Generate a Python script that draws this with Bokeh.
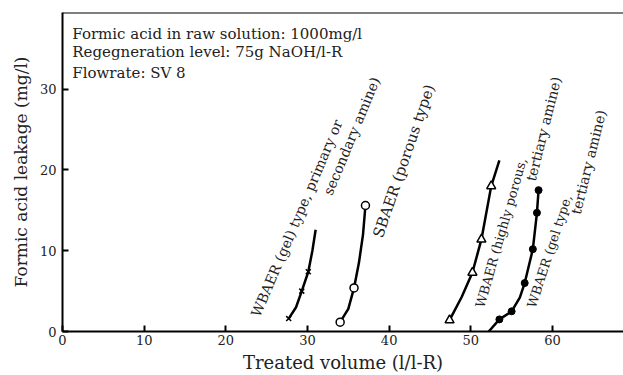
from bokeh.plotting import figure
from bokeh.models import Label, Span, FixedTicker, Range1d
from bokeh.embed import file_html
from bokeh.resources import INLINE

FONT = "DejaVu Serif"

# ---- data ----
# WBAER (gel type, primary or secondary amine) - x markers
s1_x = [27.7, 29.3, 30.1]
s1_y = [1.6, 5.0, 7.4]
s1_line_x = [27.7, 28.6, 29.3, 30.1, 30.6, 31.0]
s1_line_y = [1.6, 3.0, 5.0, 7.4, 10.0, 12.6]

# SBAER (porous type) - open circles
s2_x = [34.0, 35.7, 37.1]
s2_y = [1.15, 5.4, 15.6]
s2_line_x = [34.0, 35.0, 35.7, 36.3, 36.8, 37.1]
s2_line_y = [1.15, 2.8, 5.4, 8.5, 12.0, 15.6]

# WBAER (highly porous, tertiary amine) - open triangles
s3_x = [47.4, 50.2, 51.3, 52.5]
s3_y = [1.4, 7.3, 11.4, 18.0]
s3_line_x = [47.4, 48.9, 50.2, 51.3, 52.5, 53.5]
s3_line_y = [1.4, 4.3, 7.3, 11.4, 18.0, 21.2]

# WBAER (gel type, tertiary amine) - filled circles
s4_x = [53.5, 55.0, 56.6, 57.6, 58.1, 58.3]
s4_y = [1.5, 2.5, 6.0, 10.2, 14.7, 17.5]
s4_line_x = [52.2, 53.5, 55.0, 56.0, 56.6, 57.6, 58.1, 58.3]
s4_line_y = [0.0, 1.5, 2.5, 4.2, 6.0, 10.2, 14.7, 17.5]

x_ticks = [0, 10, 20, 30, 40, 50, 60]
y_ticks = [0, 10, 20, 30]

notes = ["Formic acid in raw solution: 1000mg/l",
         "Regegneration level: 75g NaOH/l-R",
         "Flowrate: SV 8"]
notes_y = [36.85, 34.55, 32.0]

curve_labels = ["WBAER (gel) type, primary or", "secondary amine)",
                "SBAER (porous type)",
                "WBAER (highly porous,", "tertiary amine)",
                "WBAER (gel type,", "tertiary amine)"]
curve_label_x = [23.6, 38.35, 38.6, 51.1, 60.5, 57.4, 66.0]
curve_label_y = [1.9, 31.4, 11.7, 3.0, 31.5, 3.0, 27.4]
curve_label_align = ["left", "right", "left", "left", "right", "left", "right"]
curve_label_angle = [67, 67.5, 71, 74, 76, 72, 76]
curve_label_size = ["14px", "14px", "15px", "13px", "14px", "13px", "14px"]

X_END = 68.7
Y_END = 39.5

p = figure(width=623, height=375, output_backend="svg", toolbar_location=None,
           x_range=Range1d(0, X_END), y_range=Range1d(0, Y_END),
           min_border_left=62, min_border_top=12, min_border_right=0,
           min_border_bottom=43)
p.outline_line_color = None
p.grid.visible = False
p.background_fill_color = "white"
p.border_fill_color = "white"

for ax in (p.xaxis[0], p.yaxis[0]):
    ax.axis_line_width = 2
    ax.axis_line_color = "black"
    ax.major_tick_in = 6
    ax.major_tick_out = 0
    ax.major_tick_line_width = 2
    ax.minor_tick_line_color = None
    ax.major_label_text_font = FONT
    ax.major_label_text_font_size = "13px"
    ax.major_label_text_color = "#222222"
    ax.axis_label_text_font = FONT
    ax.axis_label_text_font_style = "normal"
    ax.axis_label_text_color = "#222222"

p.xaxis.ticker = FixedTicker(ticks=x_ticks)
p.yaxis.ticker = FixedTicker(ticks=y_ticks)
p.xaxis.axis_label = "Treated volume (l/l-R)"
p.yaxis.axis_label = "Formic acid leakage (mg/l)"
p.xaxis.axis_label_text_font_size = "18px"
p.yaxis.axis_label_text_font_size = "17px"
p.xaxis.major_label_standoff = 3
p.yaxis.major_label_standoff = 6
p.xaxis.axis_label_standoff = 4
p.yaxis.axis_label_standoff = 6

p.add_layout(Span(location=Y_END, dimension="width", line_color="black", line_width=2))

LW = 2.5
p.line(s1_line_x, s1_line_y, line_color="black", line_width=LW)
p.scatter(s1_x, s1_y, marker="x", size=7, line_color="black", line_width=1.5)

p.line(s2_line_x, s2_line_y, line_color="black", line_width=LW)
p.scatter(s2_x, s2_y, marker="circle", size=8, line_color="black", fill_color="white", line_width=1.5)

p.line(s3_line_x, s3_line_y, line_color="black", line_width=LW)
p.scatter(s3_x, s3_y, marker="triangle", size=9, line_color="black", fill_color="white", line_width=1.5)

p.line(s4_line_x, s4_line_y, line_color="black", line_width=LW)
p.scatter(s4_x, s4_y, marker="circle", size=7, line_color="black", fill_color="black")

for t, yy in zip(notes, notes_y):
    p.add_layout(Label(x=1.2, y=yy, text=t, text_font=FONT, text_font_size="15px",
                       text_color="#222222", text_baseline="alphabetic", text_align="left"))

for t, xx, yy, al, an, fs in zip(curve_labels, curve_label_x, curve_label_y,
                                 curve_label_align, curve_label_angle, curve_label_size):
    p.add_layout(Label(x=xx, y=yy, text=t, angle=an, angle_units="deg", text_font=FONT,
                       text_font_size=fs, text_color="#222222",
                       text_baseline="middle", text_align=al))

open("out.html", "w").write(file_html(p, INLINE))
